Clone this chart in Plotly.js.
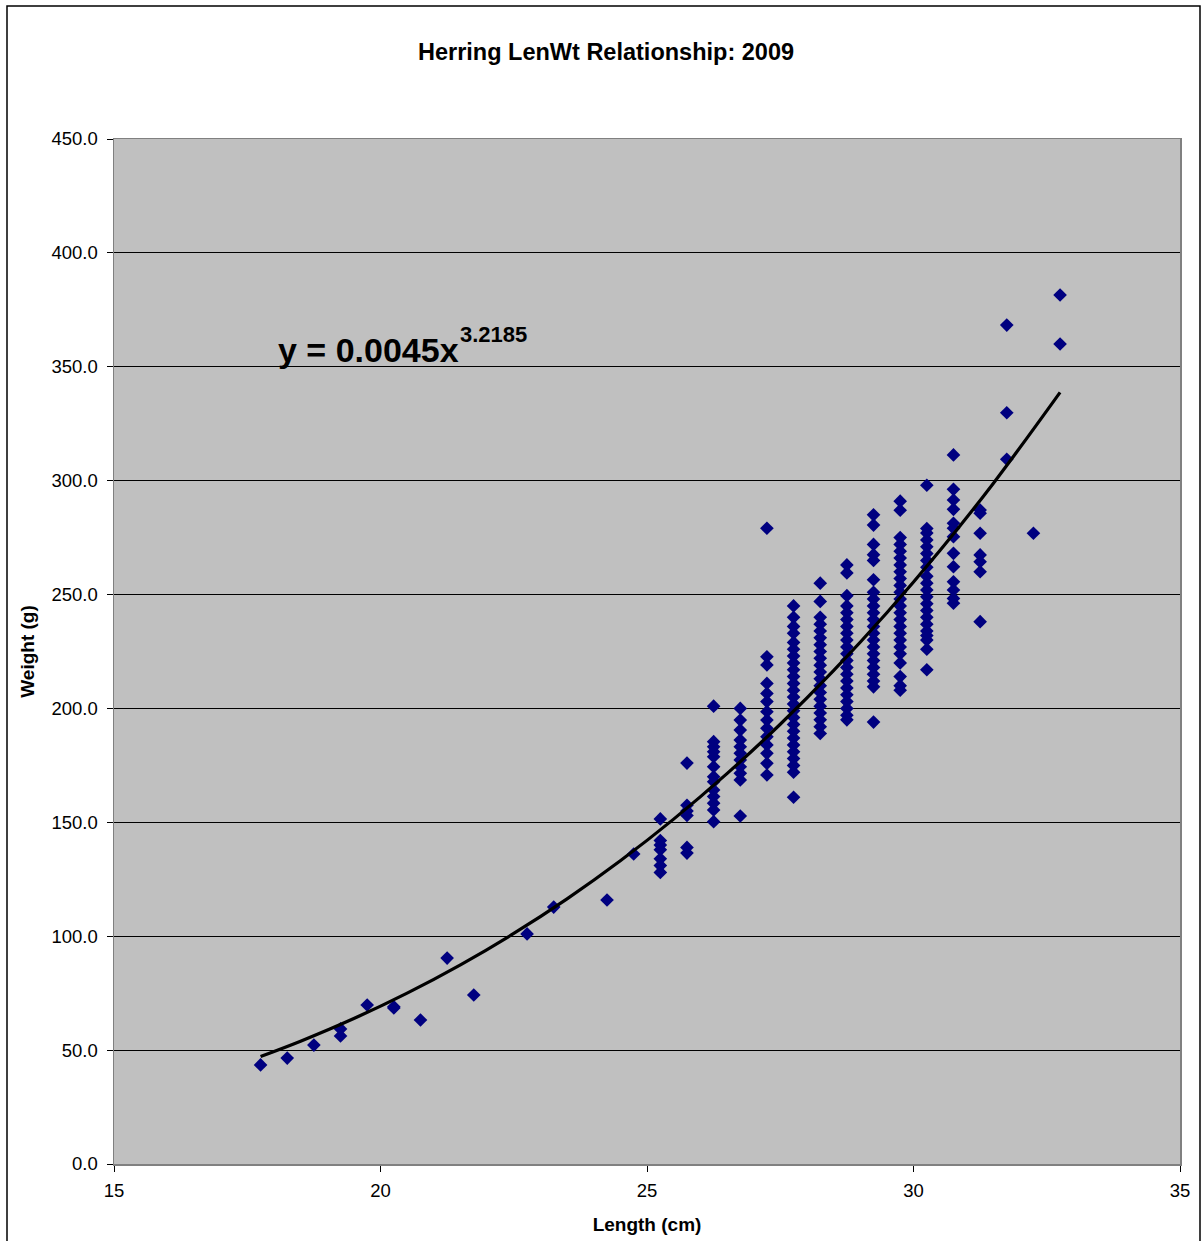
<!DOCTYPE html>
<html>
<head>
<meta charset="utf-8">
<script src="https://cdn.plot.ly/plotly-3.0.1.min.js"></script>
<style>html,body{margin:0;padding:0;background:#fff;}#chart{width:1203px;height:1241px;}</style>
</head>
<body>
<div id="chart"></div>
<script>
// Length classes (cm) and weights (g)
var lengthClasses = [17.75, 18.25, 18.75, 19.25, 19.75, 20.25, 20.75, 21.25, 21.75, 22.75, 23.25, 24.25, 24.75,
  25.25, 25.75, 26.25, 26.75, 27.25, 27.75, 28.25, 28.75, 29.25, 29.75, 30.25, 30.75, 31.25, 31.75, 32.25, 32.75];
var weightsByClass = [
  [43.5],
  [46.5],
  [52.2],
  [59.3, 56.2],
  [69.8],
  [68.5, 69],
  [63.2],
  [90.4],
  [74.2],
  [101],
  [112.8],
  [115.9],
  [136.1],
  [151.5, 142, 140, 138, 134, 131, 128],
  [176, 157.5, 155, 153, 139, 136.5],
  [201, 185.4, 183.2, 181, 178.8, 174.4, 170, 167.8, 164.2, 161.3, 158.4, 155.4, 150.3],
  [200, 194.9, 190.5, 186.1, 183.2, 180.3, 177.4, 174.4, 171.5, 168.6, 152.8],
  [279.1, 222.7, 219.1, 211, 206.6, 203, 198.6, 194.9, 191.3, 187.6, 184, 180.3, 175.9, 170.8],
  [245, 240, 236, 233, 229, 226, 223, 220, 217, 214, 211, 208, 205, 202, 199, 196, 193, 190, 187, 184, 181, 178, 175, 172, 161],
  [255, 247, 240, 237, 234, 231, 228, 225, 222, 219, 216, 213, 210, 207, 204, 201, 198, 195, 192, 189],
  [263, 259.5, 249.5, 245, 242, 239, 236, 233, 230, 227, 224, 221, 218, 215, 212, 209, 206, 203, 200, 197, 195],
  [285, 280.5, 272, 267.5, 265, 256.5, 251, 248, 245, 242, 239, 236, 233, 230, 227, 224, 221, 218, 215, 212, 209.5, 194],
  [291, 287, 275, 272, 269, 266, 263, 260, 257, 254, 251, 248, 245, 242, 239, 236, 233, 230, 227, 224, 220, 214, 210, 208],
  [298, 279, 277, 274, 271, 268, 265, 262, 258, 255, 252, 249, 246, 243, 240, 237, 234, 232, 230, 226, 217],
  [311.3, 296.2, 291.5, 287.4, 281.3, 279.1, 275.4, 268.1, 262.2, 255.6, 252, 248.3, 246.2],
  [287.1, 285.7, 276.9, 267.4, 264.4, 260, 238.1],
  [368.3, 329.8, 309.4],
  [276.9],
  [381.5, 360]
];
// Power trendline printed on the chart: y = 0.0045 x^3.2185
var trendCoef = 0.0045;
var trendExp = 3.2185;
var trendX = [17.75, 18.5, 19.5, 20.5, 21.5, 22.5, 23.5, 24.5, 25.5, 26.5, 27.5, 28.5, 29.5, 30.5, 31.5, 32.75];

var xs = [], ys = [];
lengthClasses.forEach(function (L, i) {
  weightsByClass[i].forEach(function (w) { xs.push(L); ys.push(w); });
});
var trendY = trendX.map(function (x) { return trendCoef * Math.pow(x, trendExp); });

var font = 'Liberation Sans, Arial, sans-serif';
var L = 114, R = 1180, T = 139, B = 1164, W = 1203, H = 1241;
function px(xp) { return (xp - L) / (R - L); }
function py(yp) { return (B - yp) / (B - T); }
function dy(yp) { return (B - yp) / (B - T) * 450; }

var data = [
  { x: xs, y: ys, type: 'scatter', mode: 'markers', name: 'Weight',
    marker: { symbol: 'diamond', size: 10.5, color: '#000080', line: { width: 0 } }, hoverinfo: 'x+y' },
  { x: trendX, y: trendY, type: 'scatter', mode: 'lines', name: 'Power fit',
    line: { color: '#000000', width: 3.2, shape: 'spline' }, hoverinfo: 'skip' }
];

var layout = {
  width: W, height: H,
  margin: { l: L, r: W - R, t: T, b: H - B, pad: 0 },
  paper_bgcolor: '#ffffff', plot_bgcolor: '#C0C0C0',
  showlegend: false,
  font: { family: font, color: '#000', size: 16 },
  title: { text: '<b>Herring LenWt Relationship: 2009</b>', font: { family: font, size: 23.5, color: '#000' },
    x: 606 / W, xref: 'container', y: 1 - 52 / H, yref: 'container', yanchor: 'middle', xanchor: 'center' },
  xaxis: {
    range: [15, 35], dtick: 5, tick0: 15, showgrid: false, zeroline: false,
    ticks: 'outside', ticklen: 6, tickcolor: '#000', tickwidth: 1,
    showline: true, linecolor: '#808080', linewidth: 1.5, mirror: true,
    ticklabelstandoff: 3,
    tickfont: { family: font, size: 18.5, color: '#000' },
    title: { text: '<b>Length (cm)</b>', font: { family: font, size: 19, color: '#000' }, standoff: 18 }
  },
  yaxis: {
    range: [0, 450], dtick: 50, tick0: 0, tickformat: '.1f',
    showgrid: true, gridcolor: '#000000', gridwidth: 1, zeroline: false,
    ticks: 'outside', ticklen: 6, tickcolor: '#000', tickwidth: 1,
    showline: true, linecolor: '#808080', linewidth: 1.5, mirror: true,
    ticklabelstandoff: 5,
    tickfont: { family: font, size: 18.5, color: '#000' },
    title: { text: '<b>Weight (g)</b>', font: { family: font, size: 19, color: '#000' }, standoff: 12 }
  },
  annotations: [{
    xref: 'paper', yref: 'y', x: px(276), y: 348, xanchor: 'left', yanchor: 'bottom',
    text: '<b>y = 0.0045x</b>', showarrow: false,
    font: { family: font, size: 34, color: '#000' }
  }, {
    xref: 'paper', yref: 'y', x: px(458), y: dy(334), xanchor: 'left', yanchor: 'middle',
    text: '<b>3.2185</b>', showarrow: false,
    font: { family: font, size: 22, color: '#000' }
  }],
  shapes: [{
    type: 'rect', xref: 'paper', yref: 'paper',
    x0: px(7), x1: px(1200), y0: py(1250), y1: py(6),
    line: { color: '#000', width: 1.5 }, fillcolor: 'rgba(0,0,0,0)', layer: 'above'
  }]
};

Plotly.newPlot('chart', data, layout, { displayModeBar: false, staticPlot: true });
</script>
</body>
</html>
